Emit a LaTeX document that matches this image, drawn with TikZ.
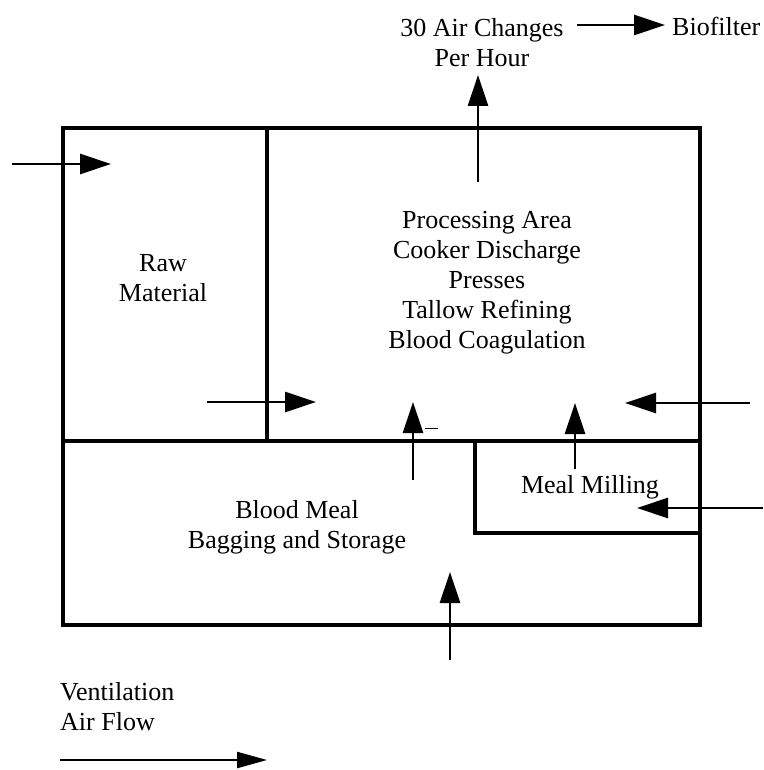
\documentclass[tikz,border=0pt]{standalone}
\usepackage{fontspec}
\setmainfont{Liberation Serif}
\usetikzlibrary{arrows.meta}
\begin{document}
\begin{tikzpicture}[x=1pt,y=-1pt,
  wall/.style={line width=4pt, line join=miter, line cap=rect},
  innerwall/.style={line width=3.5pt, line cap=rect},
  flow/.style={line width=2.8pt, -{Triangle[length=31pt,width=20pt]}},
  legendflow/.style={line width=2.4pt, -{Triangle[length=30pt,width=16pt]}},
  lbl/.style={font=\fontsize{26}{30}\selectfont, align=center, inner sep=0pt}]
\useasboundingbox (0,0) rectangle (763,770);
% building walls
\draw[wall] (63,128) rectangle (700,625);
\draw[innerwall] (267,128) -- (267,441);
\draw[innerwall] (63,441) -- (700,441);
\draw[innerwall] (475,441) -- (475,533) -- (700,533);
% labels
\node[lbl] (raw) at (163,278) {Raw\\Material};
\node[lbl] (proc) at (487,283) {Processing Area\\Cooker Discharge\\Presses\\Tallow Refining\\Blood Coagulation};
\node[lbl] (meal) at (297,527) {Blood Meal\\Bagging and Storage};
\node[lbl] (mill) at (590,487) {Meal Milling};
\node[lbl] (ach) at (482,43) {30 Air Changes\\Per Hour};
\node[lbl, anchor=west] (bio) at (672,26) {Biofilter};
\node[lbl, align=left, anchor=west] (vent) at (60,707) {Ventilation\\Air Flow};
% arrow end points
\coordinate (a1s) at (12,164);   \coordinate (a1e) at (111,164);
\coordinate (a2s) at (207,402);  \coordinate (a2e) at (316,402);
\coordinate (a3s) at (413,480);  \coordinate (a3e) at (413,402);
\coordinate (a4s) at (575,469);  \coordinate (a4e) at (575,403);
\coordinate (a5s) at (750,403);  \coordinate (a5e) at (625,403);
\coordinate (a6s) at (763,508);  \coordinate (a6e) at (637,508);
\coordinate (a7s) at (450,660);  \coordinate (a7e) at (450,572);
\coordinate (a8s) at (478,182);  \coordinate (a8e) at (478,75);
\coordinate (a9s) at (577,25);   \coordinate (a9e) at (665,25);
\coordinate (l1s) at (60,760);   \coordinate (l1e) at (267,760);
\coordinate (m1s) at (425,428);  \coordinate (m1e) at (438,428);
% air flow arrows
\draw[flow] (a1s) -- (a1e);
\draw[flow] (a2s) -- (a2e);
\draw[flow] (a3s) -- (a3e);
\draw[flow] (a4s) -- (a4e);
\draw[flow] (a5s) -- (a5e);
\draw[flow] (a6s) -- (a6e);
\draw[flow] (a7s) -- (a7e);
\draw[flow] (a8s) -- (a8e);
\draw[flow] (a9s) -- (a9e);
\draw[legendflow] (l1s) -- (l1e);
\draw[line width=1pt] (m1s) -- (m1e);
\end{tikzpicture}
\end{document}
